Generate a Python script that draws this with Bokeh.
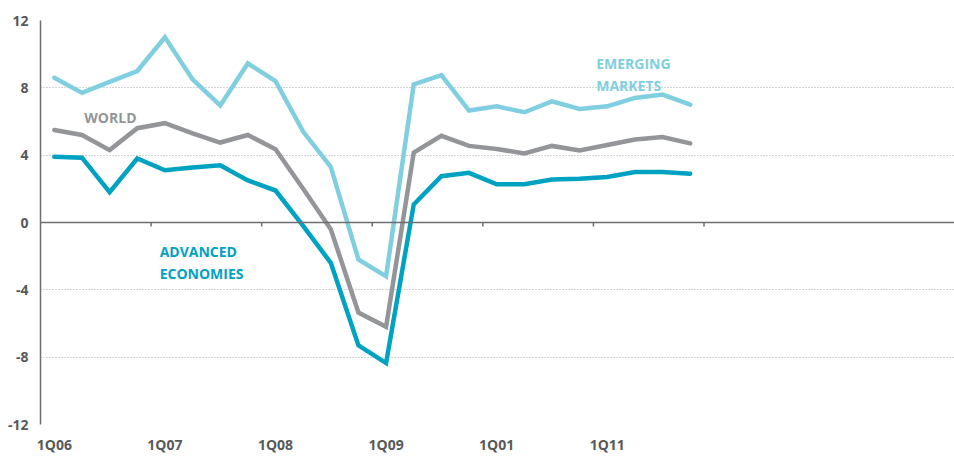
from bokeh.plotting import figure
from bokeh.models import FixedTicker, Label, Range1d, Span
from bokeh.embed import file_html
from bokeh.resources import INLINE

# ---- data ----
quarters = list(range(24))  # 1Q06 .. 4Q11
tick_positions = [0, 4, 8, 12, 16, 20]
tick_labels = ["1Q06", "1Q07", "1Q08", "1Q09", "1Q01", "1Q11"]
year_boundaries = [3.5, 7.5, 11.5, 15.5, 19.5, 23.5]
y_ticks = [-12, -8, -4, 0, 4, 8, 12]
y_tick_labels = ["-12", "-8", "-4", "0", "4", "8", "12"]

emerging = [8.6, 7.7, 8.35, 9.0, 11.0, 8.5, 6.95, 9.45, 8.4, 5.4, 3.3, -2.2,
            -3.2, 8.2, 8.75, 6.65, 6.9, 6.55, 7.2, 6.75, 6.9, 7.4, 7.6, 7.0]
world = [5.5, 5.2, 4.3, 5.6, 5.9, 5.3, 4.75, 5.2, 4.35, 2.0, -0.4, -5.35,
         -6.2, 4.15, 5.15, 4.55, 4.37, 4.1, 4.55, 4.28, 4.6, 4.93, 5.08, 4.7]
advanced = [3.9, 3.85, 1.8, 3.8, 3.1, 3.27, 3.4, 2.5, 1.9, -0.2, -2.4, -7.3,
            -8.35, 1.07, 2.75, 2.95, 2.27, 2.27, 2.55, 2.6, 2.7, 3.0, 3.0, 2.9]

C_EM = "#80cfe1"
C_WORLD = "#939598"
C_ADV = "#00a2c2"
C_AXIS = "#6d6e71"
C_TEXT = "#58595b"
FONT = "Open Sans"

p = figure(width=954, height=456, output_backend="svg", toolbar_location=None,
           x_range=Range1d(-0.5, 32.56), y_range=Range1d(-12, 12),
           min_border_left=40, min_border_right=0, min_border_top=20,
           min_border_bottom=30)
p.outline_line_color = None
p.background_fill_color = "white"
p.border_fill_color = "white"

# x axis (labels only, at bottom)
p.xaxis.ticker = FixedTicker(ticks=tick_positions)
p.xaxis.major_label_overrides = {t: l for t, l in zip(tick_positions, tick_labels)}
p.xaxis.axis_line_color = None
p.xaxis.major_tick_line_color = None
p.xaxis.minor_tick_line_color = None
p.xaxis.major_tick_in = 0
p.xaxis.major_tick_out = 0
p.xaxis.major_label_standoff = 10
p.xaxis.major_label_text_font = FONT
p.xaxis.major_label_text_font_size = "14px"
p.xaxis.major_label_text_font_style = "bold"
p.xaxis.major_label_text_color = C_TEXT

# y axis
p.yaxis.ticker = FixedTicker(ticks=y_ticks)
p.yaxis.major_label_overrides = {t: l for t, l in zip(y_ticks, y_tick_labels)}
p.yaxis.axis_line_color = C_AXIS
p.yaxis.axis_line_width = 1.5
p.yaxis.major_tick_line_color = None
p.yaxis.minor_tick_line_color = None
p.yaxis.major_tick_in = 0
p.yaxis.major_tick_out = 0
p.yaxis.major_label_standoff = 12
p.yaxis.major_label_text_font = FONT
p.yaxis.major_label_text_font_size = "14px"
p.yaxis.major_label_text_font_style = "bold"
p.yaxis.major_label_text_color = C_TEXT

# grid
p.xgrid.grid_line_color = None
p.ygrid.ticker = FixedTicker(ticks=[t for t in y_ticks if t != 0])
p.ygrid.grid_line_color = "#a7a9ac"
p.ygrid.grid_line_dash = "1 2"
p.ygrid.grid_line_width = 1

# zero line with year-boundary ticks
p.add_layout(Span(location=0, dimension="width", line_color=C_AXIS, line_width=1.5))
tick_len = 4 * 24 / 406  # 4 px in data units
p.segment(x0=year_boundaries, y0=[0] * len(year_boundaries),
          x1=year_boundaries, y1=[-tick_len] * len(year_boundaries),
          line_color=C_AXIS, line_width=1.5)

# lines
for ys, col in [(emerging, C_EM), (world, C_WORLD), (advanced, C_ADV)]:
    p.line(quarters, ys, line_color=col, line_width=4.5,
           line_join="miter", line_cap="round")

# annotations
def lab(x, y, text, color):
    p.add_layout(Label(x=x, y=y, text=text, text_color=color, text_font=FONT,
                       text_font_size="14px", text_font_style="bold",
                       text_baseline="alphabetic", text_align="left"))

lab(1.085, 6.21, "WORLD", C_WORLD)
lab(19.6, 9.44, "EMERGING", C_EM)
lab(19.6, 8.16, "MARKETS", C_EM)
lab(3.81, -1.73, "ADVANCED", C_ADV)
lab(3.81, -3.01, "ECONOMIES", C_ADV)

open("out.html", "w").write(file_html(p, INLINE))
